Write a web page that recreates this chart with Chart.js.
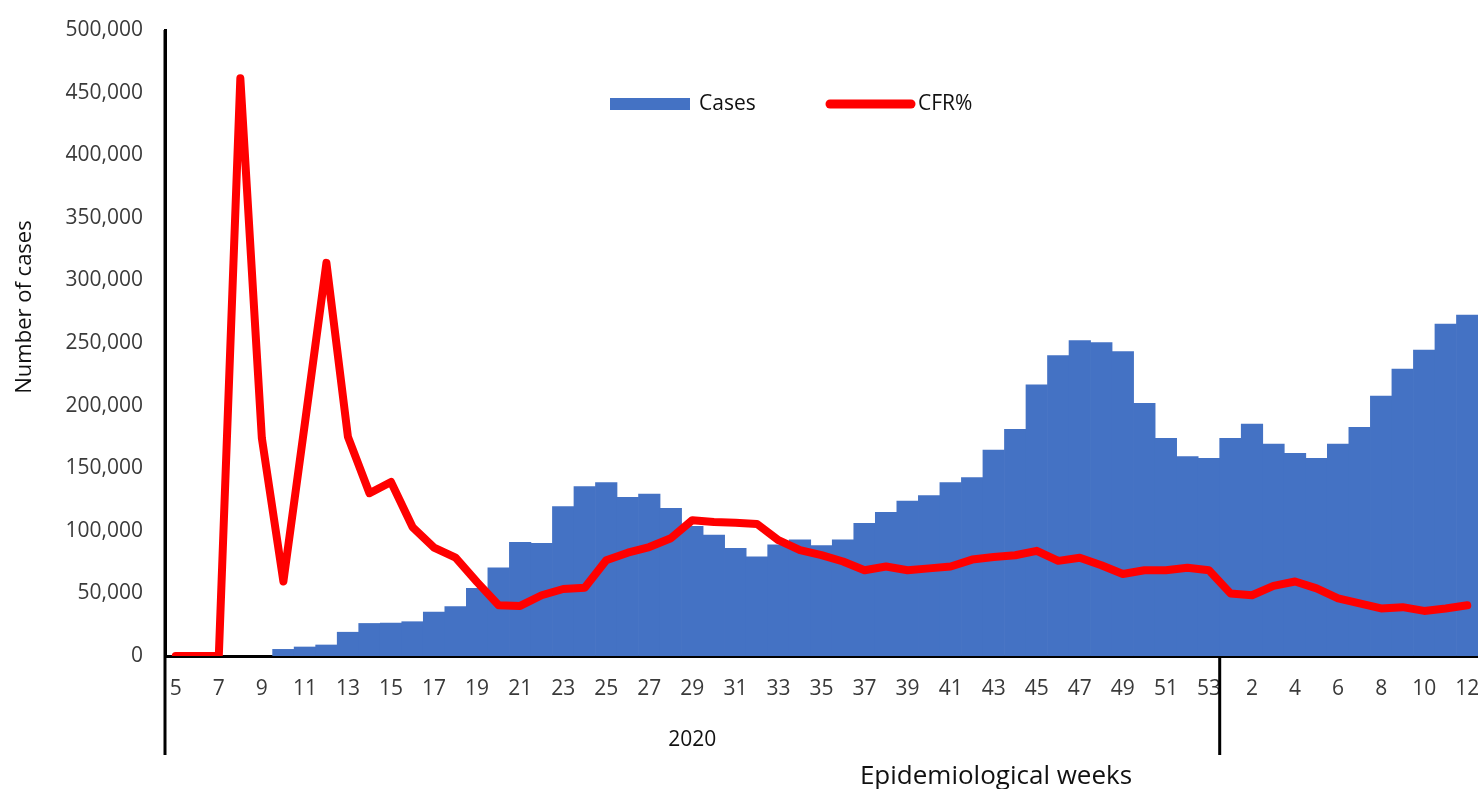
<!DOCTYPE html>
<html>
<head>
<title>Cases and CFR by epidemiological week</title>
<script src="https://cdn.jsdelivr.net/npm/chart.js@4/dist/chart.umd.min.js"></script>
<style>
body { margin: 0; background: #ffffff; }
#wrap { width: 1478px; height: 789px; }
</style>
</head>
<body>
<div id="wrap"><canvas id="c1"></canvas></div>
<script>
// weeks of 2020, then weeks of 2021 (picture is cut after week 12)
var weeks2020 = [5,6,7,8,9,10,11,12,13,14,15,16,17,18,19,20,21,22,23,24,25,26,27,28,29,30,31,32,33,34,35,36,37,38,39,40,41,42,43,44,45,46,47,48,49,50,51,52,53];
var weeks2021 = [1,2,3,4,5,6,7,8,9,10,11,12];
var years = ['2020', '2021'];

var cases2020 = [null,null,null,null,null,5300,7200,8800,19000,26000,26300,27400,35000,39400,54000,70500,90800,90000,119300,135300,138500,126800,129400,118000,103500,96600,86000,79300,88700,92700,88100,92700,106000,114800,123800,128100,138500,142500,164500,181100,216500,239900,251900,250300,243100,201800,173800,159200,157800];
var cases2021 = [173800,185300,169300,161800,157800,169300,182700,207700,229200,244400,265200,272400];

var cfr2020 = [0,0,0,9.23,3.48,1.19,3.72,6.28,3.50,2.60,2.78,2.06,1.73,1.57,1.18,0.81,0.80,0.97,1.07,1.09,1.53,1.65,1.74,1.88,2.17,2.14,2.13,2.11,1.85,1.69,1.61,1.51,1.37,1.43,1.37,1.40,1.43,1.54,1.58,1.61,1.68,1.52,1.57,1.45,1.31,1.37,1.37,1.41,1.37];
var cfr2021 = [1.00,0.97,1.12,1.19,1.08,0.92,0.84,0.76,0.78,0.72,0.76,0.81];

var yTicks = [0,50000,100000,150000,200000,250000,300000,350000,400000,450000,500000];

var labels = weeks2020.concat(weeks2021).map(String);
var cases = cases2020.concat(cases2021);
var cfr = cfr2020.concat(cfr2021);

var blue = '#4472C4';
var red = '#FF0000';
var txt = '#3a3a3a';
var fnt = '"Open Sans", sans-serif';

var extras = {
  id: 'extras',
  afterDraw: function (chart) {
    var ctx = chart.ctx;
    var x = chart.scales.x;
    var area = chart.chartArea;
    ctx.save();
    // group dividers under the axis
    var left = x.getPixelForValue(-0.5);
    var split = x.getPixelForValue(weeks2020.length - 0.5);
    ctx.strokeStyle = '#000';
    ctx.lineWidth = 3;
    ctx.beginPath();
    ctx.moveTo(left, area.top);
    ctx.lineTo(left, 755);
    ctx.moveTo(split, area.bottom);
    ctx.lineTo(split, 755);
    ctx.stroke();
    // year label
    ctx.fillStyle = '#111';
    ctx.font = '21px ' + fnt;
    ctx.textAlign = 'center';
    ctx.textBaseline = 'middle';
    ctx.fillText(years[0], (left + split) / 2, 740);
    // axis titles
    ctx.font = '26px ' + fnt;
    ctx.fillText('Epidemiological weeks', 996, 777);
    ctx.font = '22px ' + fnt;
    ctx.save();
    ctx.translate(25, 307);
    ctx.rotate(-Math.PI / 2);
    ctx.fillText('Number of cases', 0, 0);
    ctx.restore();
    // legend
    ctx.fillStyle = blue;
    ctx.fillRect(610, 98, 80, 12);
    ctx.strokeStyle = red;
    ctx.lineWidth = 9;
    ctx.lineCap = 'round';
    ctx.beginPath();
    ctx.moveTo(830, 104);
    ctx.lineTo(911, 104);
    ctx.stroke();
    ctx.fillStyle = '#111';
    ctx.font = '21px ' + fnt;
    ctx.textAlign = 'left';
    ctx.fillText('Cases', 699, 104);
    ctx.fillText('CFR%', 918, 104);
    ctx.restore();
  }
};

var ctx = document.getElementById('c1').getContext('2d');
var chart = new Chart(ctx, {
  type: 'bar',
  data: {
    labels: labels,
    datasets: [
      {
        type: 'line',
        label: 'CFR%',
        data: cfr,
        yAxisID: 'y1',
        borderColor: red,
        backgroundColor: red,
        borderWidth: 8,
        pointRadius: 0,
        tension: 0,
        borderJoinStyle: 'round',
        borderCapStyle: 'round',
        order: 0
      },
      {
        label: 'Cases',
        data: cases,
        yAxisID: 'y',
        backgroundColor: blue,
        borderWidth: 0,
        barPercentage: 1,
        categoryPercentage: 1,
        order: 1
      }
    ]
  },
  options: {
    responsive: true,
    maintainAspectRatio: false,
    animation: false,
    layout: { padding: { top: 30, right: 0, left: 0, bottom: 0 } },
    plugins: { legend: { display: false }, tooltip: { enabled: false } },
    scales: {
      x: {
        grid: { display: false, drawTicks: false },
        border: { display: true, color: '#000', width: 3 },
        ticks: {
          autoSkip: false,
          maxRotation: 0,
          padding: 20,
          color: txt,
          font: { family: fnt, size: 21 },
          callback: function (v, i) { return i % 2 === 0 ? labels[i] : ''; }
        },
        afterFit: function (s) { s.height = 133; s.paddingRight = 0; s.paddingLeft = 0; }
      },
      y: {
        min: 0,
        max: 500000,
        afterBuildTicks: function (s) { s.ticks = yTicks.map(function (v) { return { value: v }; }); },
        grid: { display: false, drawTicks: false },
        border: { display: true, color: '#000', width: 3 },
        ticks: {
          padding: 22,
          color: txt,
          font: { family: fnt, size: 21 }
        },
        afterFit: function (s) { s.width = 165; s.paddingTop = 0; s.paddingBottom = 0; }
      },
      y1: {
        display: false,
        min: 0,
        max: 10
      }
    }
  },
  plugins: [extras]
});
</script>
</body>
</html>
